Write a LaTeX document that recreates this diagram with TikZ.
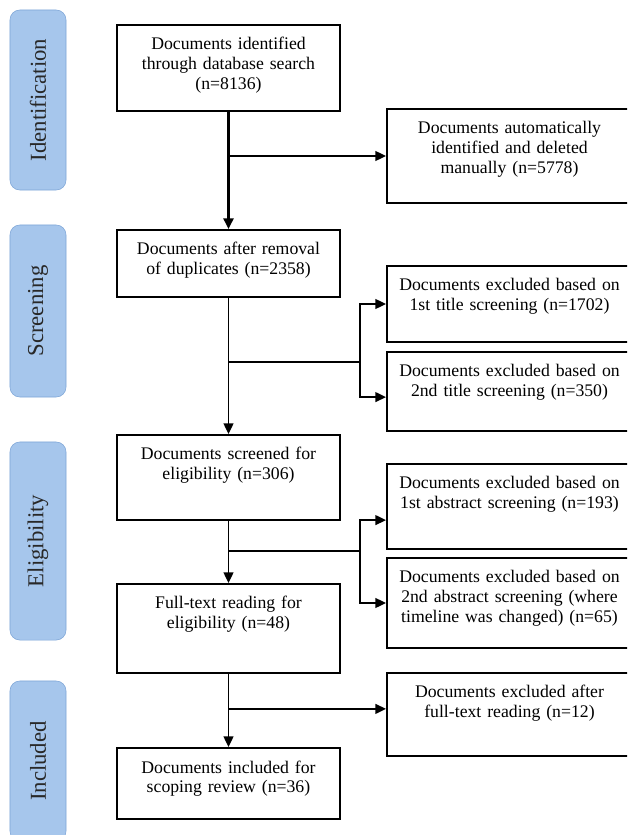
\documentclass[tikz,border=0pt]{standalone}
\usepackage{fontspec}
\setmainfont{Liberation Serif}
\usetikzlibrary{arrows.meta}
\definecolor{phasefill}{RGB}{166,198,236}
\definecolor{phaseline}{RGB}{125,165,215}
\definecolor{phasetext}{RGB}{40,40,40}

\begin{document}
\begin{tikzpicture}[x=0.025cm,y=-0.025cm,
  mainbox/.style={draw=black,line width=1.4pt,anchor=north,inner xsep=0pt,inner ysep=0pt,text width=5.575cm,align=center,text height=0.625cm,font=\fontsize{12.6}{14.2}\selectfont},
  sidebox/.style={mainbox,text width=6.125cm},
  phase/.style={draw=phaseline,fill=phasefill,rounded corners=7pt,rotate=90,minimum height=1.4cm,text=phasetext,font=\fontsize{16.2}{18}\selectfont},
  flow/.style={line width=1pt,-{Triangle[length=7.5pt,width=7pt]}},
  link/.style={line width=1pt}]
\useasboundingbox (0,0) rectangle (627,835);
\clip (0,0) rectangle (627,835);

\node[phase,minimum width=4.5cm] (identification) at (38,100) {Identification};
\node[phase,minimum width=4.3cm] (screening) at (38,311) {Screening};
\node[phase,minimum width=4.95cm] (eligibility) at (38,541) {Eligibility};
\node[phase,minimum width=4cm] (inclusion) at (38,761) {Included};

\node[mainbox,text depth=1.525cm] (ident) at (228.5,24) {Documents identified\\ through database search\\ (n=8136)};
\node[mainbox,text depth=1.05cm] (dedup) at (228.5,229) {Documents after removal\\ of duplicates (n=2358)};
\node[mainbox,text depth=1.5cm] (screened) at (228.5,434) {Documents screened for\\ eligibility (n=306)};
\node[mainbox,text depth=1.6cm] (fulltext) at (228.5,583) {Full-text reading for\\ eligibility (n=48)};
\node[mainbox,text depth=1.15cm] (included) at (228.5,747) {Documents included for\\ scoping review (n=36)};

\node[sidebox,text depth=1.725cm] (auto) at (509.5,108) {Documents automatically\\ identified and deleted\\ manually (n=5778)};
\node[sidebox,text depth=1.275cm] (title1) at (509.5,265) {Documents excluded based on\\ 1st title screening (n=1702)};
\node[sidebox,text depth=1.35cm] (title2) at (509.5,351) {Documents excluded based on\\ 2nd title screening (n=350)};
\node[sidebox,text depth=1.5cm] (abs1) at (509.5,463) {Documents excluded based on\\ 1st abstract screening (n=193)};
\node[sidebox,text depth=1.625cm] (abs2) at (509.5,557) {Documents excluded based on\\ 2nd abstract screening (where\\ timeline was changed) (n=65)};
\node[sidebox,text depth=1.45cm] (after) at (509.5,672) {Documents excluded after\\ full-text reading (n=12)};

\coordinate (titlesplit) at (360,362);
\coordinate (abstractsplit) at (360,551);
\coordinate (title2in) at ([yshift=-0.14cm]title2.west);
\coordinate (abs1in) at ([yshift=-0.34cm]abs1.west);
\coordinate (afterin) at ([yshift=0.14cm]after.west);

\draw[flow,line width=1.8pt] (ident) -- (dedup);
\draw[flow] (ident.south |- auto.west) -- (auto.west);
\draw[flow] (dedup) -- (screened);
\draw[link] (dedup.south |- titlesplit) -- (titlesplit);
\draw[flow] (titlesplit) |- (title1.west);
\draw[flow] (titlesplit) |- (title2in);
\draw[flow] (screened) -- (fulltext);
\draw[link] (screened.south |- abstractsplit) -- (abstractsplit);
\draw[flow] (abstractsplit) |- (abs1in);
\draw[flow] (abstractsplit) |- (abs2.west);
\draw[flow] (fulltext) -- (included);
\draw[flow] (fulltext.south |- afterin) -- (afterin);
\end{tikzpicture}
\end{document}
